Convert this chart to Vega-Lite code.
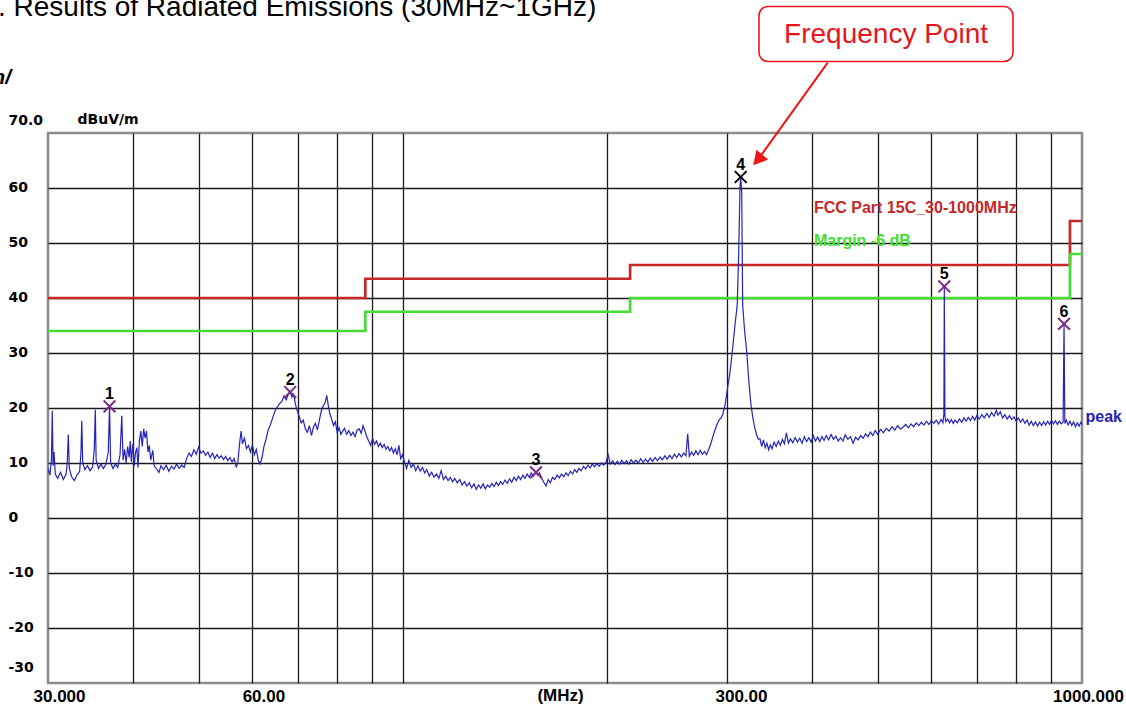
{
"$schema": "https://vega.github.io/schema/vega-lite/v6.json",
"width": 1034,
"height": 550,
"autosize": {"type": "none"},
"padding": {"left": 48, "top": 133, "right": 44, "bottom": 23},
"background": "white",
"config": {"view": {"stroke": "#8c8c8c", "strokeWidth": 2.5}, "font": "DejaVu Sans"},
"title": {"text": ". Results of Radiated Emissions (30MHz~1GHz)", "anchor": "start", "frame": "group", "dx": -50, "offset": -16, "font": "Liberation Sans", "fontSize": 28, "fontWeight": "normal", "color": "#000000"},
"datasets": {
"limits": [
{"s":"fcc","i":0,"f":30,"v":40},{"s":"fcc","i":1,"f":88,"v":40},{"s":"fcc","i":2,"f":88,"v":43.5},{"s":"fcc","i":3,"f":216,"v":43.5},{"s":"fcc","i":4,"f":216,"v":46},{"s":"fcc","i":5,"f":960,"v":46},{"s":"fcc","i":6,"f":960,"v":54},{"s":"fcc","i":7,"f":1000,"v":54},
{"s":"margin","i":0,"f":30,"v":34},{"s":"margin","i":1,"f":88,"v":34},{"s":"margin","i":2,"f":88,"v":37.5},{"s":"margin","i":3,"f":216,"v":37.5},{"s":"margin","i":4,"f":216,"v":40},{"s":"margin","i":5,"f":960,"v":40},{"s":"margin","i":6,"f":960,"v":48},{"s":"margin","i":7,"f":1000,"v":48}
],
"trace": [
{"f":30.0,"v":9.0},{"f":30.2,"v":7.8},{"f":30.35,"v":10.5},{"f":30.44,"v":19.5},{"f":30.52,"v":9.5},{"f":30.62,"v":12.0},{"f":30.75,"v":8.0},{"f":31.0,"v":7.2},{"f":31.3,"v":8.3},{"f":31.6,"v":7.0},{"f":31.9,"v":8.0},{"f":32.02,"v":10.0},{"f":32.14,"v":15.2},{"f":32.25,"v":9.0},{"f":32.5,"v":7.5},{"f":32.8,"v":6.8},{"f":33.1,"v":7.8},{"f":33.4,"v":8.5},{"f":33.55,"v":12.0},{"f":33.64,"v":17.7},{"f":33.75,"v":10.0},{"f":34.0,"v":8.8},{"f":34.3,"v":9.5},{"f":34.6,"v":8.6},{"f":34.9,"v":9.3},{"f":35.1,"v":12.5},{"f":35.22,"v":19.7},{"f":35.32,"v":10.5},{"f":35.6,"v":9.0},{"f":35.9,"v":9.8},{"f":36.2,"v":9.0},{"f":36.5,"v":9.7},{"f":36.8,"v":12.0},{"f":36.96,"v":20.3},{"f":37.1,"v":10.0},{"f":37.4,"v":9.0},{"f":37.7,"v":9.8},{"f":38.0,"v":9.2},{"f":38.3,"v":11.5},{"f":38.53,"v":18.6},{"f":38.7,"v":10.5},{"f":38.9,"v":12.5},{"f":39.1,"v":10.0},{"f":39.3,"v":13.0},{"f":39.5,"v":11.0},{"f":39.65,"v":14.0},{"f":39.8,"v":10.2},{"f":40.0,"v":13.5},{"f":40.2,"v":9.5},{"f":40.35,"v":11.8},{"f":40.55,"v":12.8},{"f":40.7,"v":9.2},{"f":40.9,"v":14.0},{"f":41.1,"v":15.8},{"f":41.3,"v":13.0},{"f":41.5,"v":16.2},{"f":41.7,"v":14.5},{"f":41.9,"v":15.8},{"f":42.1,"v":12.0},{"f":42.3,"v":13.2},{"f":42.5,"v":10.5},{"f":42.8,"v":12.3},{"f":43.0,"v":9.5},
{"f":43.3,"v":9.0},{"f":43.7,"v":8.3},{"f":44.0,"v":9.5},{"f":44.4,"v":8.8},{"f":44.8,"v":9.6},{"f":45.2,"v":8.5},{"f":45.6,"v":9.4},{"f":46.0,"v":8.9},{"f":46.4,"v":9.8},{"f":46.8,"v":9.0},{"f":47.2,"v":9.6},{"f":47.6,"v":9.2},{"f":48.0,"v":10.8},{"f":48.4,"v":11.8},{"f":48.8,"v":11.2},{"f":49.2,"v":12.4},{"f":49.6,"v":11.6},{"f":50.0,"v":12.9},{"f":50.4,"v":11.8},{"f":50.8,"v":12.2},{"f":51.2,"v":11.4},{"f":51.6,"v":12.0},{"f":52.0,"v":11.0},{"f":52.4,"v":11.8},{"f":52.8,"v":10.8},{"f":53.2,"v":11.5},{"f":53.6,"v":10.9},{"f":54.0,"v":11.3},{"f":54.4,"v":10.6},{"f":54.8,"v":11.2},{"f":55.2,"v":10.4},{"f":55.6,"v":11.0},{"f":56.0,"v":10.2},{"f":56.4,"v":10.8},{"f":56.8,"v":9.3},{"f":57.1,"v":10.0},
{"f":57.5,"v":14.0},{"f":57.75,"v":15.8},{"f":58.0,"v":13.5},{"f":58.4,"v":14.5},{"f":58.8,"v":12.6},{"f":59.2,"v":13.2},{"f":59.6,"v":12.0},{"f":60.0,"v":13.3},{"f":60.4,"v":11.5},{"f":60.8,"v":12.5},{"f":61.2,"v":10.5},{"f":61.6,"v":9.8},{"f":62.0,"v":11.0},{"f":62.4,"v":13.0},{"f":62.8,"v":14.2},{"f":63.3,"v":16.0},{"f":63.8,"v":17.0},{"f":64.3,"v":18.3},{"f":64.8,"v":19.5},{"f":65.3,"v":20.2},{"f":65.8,"v":20.8},{"f":66.3,"v":21.2},{"f":66.8,"v":22.2},{"f":67.3,"v":21.5},{"f":67.8,"v":22.6},{"f":68.2,"v":22.9},{"f":68.6,"v":22.0},{"f":69.0,"v":22.5},{"f":69.4,"v":20.8},{"f":69.8,"v":19.6},{"f":70.3,"v":18.5},{"f":70.8,"v":17.3},{"f":71.3,"v":17.8},{"f":71.8,"v":16.2},{"f":72.3,"v":15.6},{"f":72.8,"v":16.8},{"f":73.3,"v":15.0},{"f":73.8,"v":16.5},{"f":74.3,"v":17.2},{"f":74.8,"v":16.0},{"f":75.3,"v":17.8},{"f":75.8,"v":19.5},{"f":76.3,"v":20.4},{"f":76.8,"v":21.0},{"f":77.2,"v":22.3},{"f":77.6,"v":20.5},{"f":78.0,"v":19.0},{"f":78.5,"v":18.0},{"f":79.0,"v":16.8},{"f":79.5,"v":17.5},{"f":80.0,"v":15.5},{"f":80.5,"v":16.4},{"f":81.0,"v":15.2},
{"f":81.5,"v":15.8},{"f":82.0,"v":16.3},{"f":82.6,"v":15.2},{"f":83.2,"v":15.9},{"f":83.8,"v":15.0},{"f":84.4,"v":15.6},{"f":85.0,"v":14.8},{"f":85.6,"v":16.0},{"f":86.2,"v":16.2},{"f":86.8,"v":15.4},{"f":87.3,"v":16.8},{"f":87.8,"v":16.0},{"f":88.4,"v":14.8},{"f":89.0,"v":14.0},{"f":89.6,"v":13.2},{"f":90.2,"v":14.5},{"f":90.8,"v":13.4},{"f":91.4,"v":14.0},{"f":92.0,"v":13.0},{"f":92.6,"v":13.6},{"f":93.2,"v":12.8},{"f":93.8,"v":13.4},{"f":94.4,"v":12.5},{"f":95.0,"v":13.0},{"f":95.6,"v":12.2},{"f":96.2,"v":12.8},{"f":96.8,"v":11.8},{"f":97.4,"v":12.6},{"f":98.0,"v":11.5},{"f":98.6,"v":13.2},{"f":99.2,"v":10.8},{"f":99.8,"v":11.5},
{"f":100.5,"v":10.2},{"f":101.2,"v":9.0},{"f":102.0,"v":10.5},{"f":102.8,"v":9.2},{"f":103.6,"v":9.8},{"f":104.4,"v":8.6},{"f":105.2,"v":9.5},{"f":106.0,"v":8.5},{"f":106.8,"v":9.2},{"f":107.6,"v":8.2},{"f":108.4,"v":8.8},{"f":109.3,"v":7.6},{"f":110.2,"v":8.3},{"f":111.1,"v":7.4},{"f":112.0,"v":8.0},{"f":112.9,"v":7.2},{"f":113.8,"v":8.6},{"f":114.7,"v":7.0},{"f":115.6,"v":7.6},{"f":116.5,"v":6.8},{"f":117.4,"v":7.4},{"f":118.3,"v":6.6},{"f":119.2,"v":7.2},{"f":120.2,"v":6.4},{"f":121.2,"v":7.0},{"f":122.2,"v":6.0},{"f":123.2,"v":6.6},{"f":124.2,"v":5.8},{"f":125.2,"v":6.4},{"f":126.2,"v":5.5},{"f":127.2,"v":6.2},{"f":128.2,"v":5.2},{"f":129.2,"v":6.0},{"f":130.2,"v":5.4},{"f":131.2,"v":6.2},{"f":132.2,"v":5.3},{"f":133.2,"v":6.0},{"f":134.2,"v":5.6},{"f":135.2,"v":6.3},{"f":136.2,"v":5.7},{"f":137.2,"v":6.5},{"f":138.2,"v":5.9},{"f":139.2,"v":6.6},{"f":140.2,"v":6.1},{"f":141.3,"v":6.9},{"f":142.4,"v":6.3},{"f":143.5,"v":7.1},{"f":144.6,"v":6.5},{"f":145.7,"v":7.4},{"f":146.8,"v":6.8},{"f":147.9,"v":7.6},{"f":149.0,"v":7.0},{"f":150.1,"v":7.8},{"f":151.2,"v":7.2},{"f":152.3,"v":8.0},{"f":153.4,"v":7.4},{"f":154.5,"v":8.2},{"f":155.6,"v":7.6},{"f":157.0,"v":8.3},{"f":157.8,"v":7.8},{"f":158.9,"v":8.2},
{"f":160.0,"v":7.2},{"f":161.2,"v":6.5},{"f":162.4,"v":5.8},{"f":163.6,"v":7.0},{"f":164.8,"v":6.4},{"f":166.0,"v":7.4},{"f":167.3,"v":7.0},{"f":168.6,"v":7.8},{"f":169.9,"v":7.3},{"f":171.2,"v":8.0},{"f":172.5,"v":7.5},{"f":173.8,"v":8.2},{"f":175.1,"v":7.7},{"f":176.4,"v":8.5},{"f":177.7,"v":8.0},{"f":179.0,"v":8.8},{"f":180.3,"v":8.3},{"f":181.6,"v":9.0},{"f":183.0,"v":8.6},{"f":184.4,"v":9.4},{"f":185.8,"v":8.9},{"f":187.2,"v":9.6},{"f":188.6,"v":9.1},{"f":190.0,"v":9.8},{"f":191.5,"v":9.3},{"f":193.0,"v":9.9},{"f":194.5,"v":9.4},{"f":196.0,"v":10.0},{"f":197.5,"v":9.6},{"f":199.0,"v":10.1},{"f":200.5,"v":11.5},{"f":202.0,"v":9.8},{"f":203.6,"v":10.4},{"f":205.2,"v":9.7},{"f":206.8,"v":10.3},{"f":208.4,"v":9.8},{"f":210.0,"v":10.5},{"f":211.7,"v":9.9},{"f":213.4,"v":10.4},{"f":215.1,"v":9.8},{"f":216.8,"v":10.6},{"f":218.5,"v":10.0},{"f":220.3,"v":10.5},{"f":222.1,"v":10.0},{"f":223.9,"v":10.8},{"f":225.7,"v":10.1},{"f":227.5,"v":10.7},{"f":229.4,"v":10.2},{"f":231.3,"v":10.9},{"f":233.2,"v":10.3},{"f":235.1,"v":11.0},{"f":237.0,"v":10.4},{"f":239.0,"v":11.1},
{"f":241.0,"v":10.6},{"f":243.0,"v":11.3},{"f":245.0,"v":10.7},{"f":247.0,"v":11.4},{"f":249.0,"v":10.8},{"f":251.0,"v":11.6},{"f":253.0,"v":11.0},{"f":255.0,"v":11.7},{"f":257.0,"v":11.1},{"f":259.0,"v":11.8},{"f":261.0,"v":11.3},{"f":262.6,"v":15.3},{"f":264.0,"v":11.2},{"f":266.0,"v":12.0},{"f":268.0,"v":11.4},{"f":270.0,"v":12.2},{"f":272.0,"v":11.5},{"f":274.0,"v":12.3},{"f":276.0,"v":11.6},{"f":278.0,"v":12.1},{"f":280.0,"v":11.5},{"f":282.0,"v":12.5},{"f":284.0,"v":13.5},{"f":286.0,"v":14.8},{"f":288.0,"v":16.0},{"f":290.0,"v":17.0},{"f":292.0,"v":17.8},{"f":294.0,"v":18.2},{"f":296.0,"v":19.0},{"f":298.0,"v":20.5},{"f":300.5,"v":23.5},{"f":303.1,"v":26.5},{"f":305.6,"v":30.5},{"f":308.2,"v":35.0},{"f":310.6,"v":38.7},{"f":312.1,"v":47.8},{"f":313.6,"v":60.5},{"f":314.3,"v":62.0},{"f":315.4,"v":59.0},{"f":316.4,"v":38.7},{"f":318.5,"v":34.0},{"f":320.8,"v":30.2},{"f":323.0,"v":25.0},{"f":325.5,"v":20.5},{"f":327.7,"v":18.0},{"f":329.9,"v":16.2},{"f":332.0,"v":15.0},{"f":333.7,"v":14.3},
{"f":335.5,"v":14.4},{"f":337.5,"v":13.0},{"f":339.5,"v":14.2},{"f":341.5,"v":12.8},{"f":343.5,"v":13.6},{"f":345.5,"v":12.4},{"f":347.5,"v":13.3},{"f":349.5,"v":12.6},{"f":352.0,"v":13.8},{"f":354.5,"v":13.0},{"f":357.0,"v":14.0},{"f":359.5,"v":13.2},{"f":362.0,"v":14.3},{"f":364.5,"v":13.5},{"f":367.0,"v":15.5},{"f":369.5,"v":13.6},{"f":372.0,"v":14.4},{"f":375.0,"v":13.7},{"f":378.0,"v":14.6},{"f":381.0,"v":13.8},{"f":384.0,"v":14.5},{"f":387.0,"v":13.6},{"f":390.0,"v":14.8},{"f":393.0,"v":13.9},{"f":396.0,"v":14.6},{"f":399.0,"v":13.8},{"f":402.0,"v":15.0},{"f":405.0,"v":14.0},{"f":408.0,"v":14.7},{"f":411.0,"v":13.9},{"f":414.0,"v":14.8},{"f":417.0,"v":14.1},{"f":420.0,"v":15.0},{"f":423.5,"v":14.2},{"f":427.0,"v":15.2},{"f":430.5,"v":14.3},{"f":434.0,"v":14.9},{"f":437.5,"v":14.0},{"f":441.0,"v":14.6},{"f":444.5,"v":14.0},{"f":448.0,"v":15.1},{"f":452.0,"v":14.3},{"f":456.0,"v":14.8},{"f":460.0,"v":13.6},{"f":464.0,"v":14.7},{"f":468.0,"v":14.2},{"f":472.0,"v":15.0},{"f":476.0,"v":14.5},{"f":480.0,"v":15.3},{"f":484.0,"v":14.8},{"f":488.0,"v":15.6},{"f":492.0,"v":15.0},{"f":496.0,"v":15.9},{"f":500.0,"v":15.2},{"f":505.0,"v":16.1},{"f":510.0,"v":15.5},{"f":515.0,"v":16.3},{"f":520.0,"v":15.8},{"f":525.0,"v":16.6},{"f":530.0,"v":16.0},{"f":535.0,"v":16.8},{"f":540.0,"v":16.2},
{"f":545.0,"v":16.5},{"f":550.0,"v":17.0},{"f":555.0,"v":16.4},{"f":560.0,"v":17.1},{"f":565.0,"v":16.6},{"f":570.0,"v":17.3},{"f":575.0,"v":16.8},{"f":580.0,"v":17.4},{"f":585.0,"v":16.9},{"f":590.0,"v":17.6},{"f":595.0,"v":17.0},{"f":600.0,"v":17.7},{"f":605.0,"v":17.2},{"f":610.0,"v":17.8},{"f":615.0,"v":17.1},{"f":620.0,"v":17.9},{"f":624.0,"v":17.3},{"f":626.0,"v":19.0},{"f":626.9,"v":42.1},{"f":628.2,"v":18.5},{"f":630.0,"v":17.5},{"f":634.0,"v":18.0},{"f":638.0,"v":17.3},{"f":642.0,"v":17.9},{"f":646.0,"v":17.2},{"f":650.0,"v":17.8},{"f":655.0,"v":17.3},{"f":660.0,"v":18.0},{"f":665.0,"v":17.4},{"f":670.0,"v":18.2},{"f":675.0,"v":17.6},{"f":680.0,"v":18.3},{"f":685.0,"v":17.7},{"f":690.0,"v":18.5},{"f":695.0,"v":17.8},{"f":700.0,"v":18.6},{"f":706.0,"v":18.0},{"f":712.0,"v":18.8},{"f":718.0,"v":18.2},{"f":724.0,"v":19.0},{"f":730.0,"v":18.3},{"f":736.0,"v":19.2},{"f":742.0,"v":18.5},{"f":748.0,"v":19.6},{"f":752.0,"v":18.7},{"f":758.0,"v":19.3},{"f":764.0,"v":18.2},{"f":770.0,"v":18.8},{"f":776.0,"v":18.0},{"f":782.0,"v":18.6},{"f":788.0,"v":17.9},{"f":794.0,"v":18.4},{"f":800.0,"v":17.6},{"f":806.0,"v":18.2},{"f":812.0,"v":17.4},{"f":818.0,"v":18.0},{"f":824.0,"v":17.2},{"f":830.0,"v":17.8},{"f":836.0,"v":16.9},{"f":842.0,"v":17.6},{"f":848.0,"v":16.8},{"f":854.0,"v":17.5},{"f":860.0,"v":16.7},{"f":866.0,"v":17.4},{"f":872.0,"v":16.8},{"f":878.0,"v":17.5},{"f":884.0,"v":16.9},{"f":890.0,"v":17.6},{"f":896.0,"v":17.0},{"f":902.0,"v":17.8},{"f":908.0,"v":17.1},{"f":914.0,"v":17.7},{"f":920.0,"v":17.0},{"f":926.0,"v":17.6},{"f":932.0,"v":17.1},{"f":938.0,"v":17.4},{"f":940.9,"v":35.3},{"f":943.5,"v":17.2},{"f":948.0,"v":17.8},{"f":954.0,"v":16.9},{"f":960.0,"v":17.6},{"f":966.0,"v":16.8},{"f":972.0,"v":17.5},{"f":978.0,"v":16.6},{"f":984.0,"v":17.3},{"f":990.0,"v":16.7},{"f":996.0,"v":17.4},{"f":1000.0,"v":17.0}
],
"markers": [
{"n":"1","f":36.96,"v":20.3},{"n":"2","f":68.2,"v":22.9},{"n":"3","f":157.0,"v":8.3},{"n":"4","f":314.3,"v":62.0},{"n":"5","f":626.9,"v":42.1},{"n":"6","f":940.9,"v":35.3}
],
"notes": [
{"k":"fcc","t":"FCC Part 15C_30-1000MHz","f":402.9,"v":55.5},
{"k":"margin","t":"Margin -6 dB","f":402.9,"v":49.5},
{"k":"peak","t":"peak","f":1012,"v":17.4}
],
"fragment": [{"t":"m/","f":26.47,"v":79.0}],
"callout": [{"f":334.4,"v":93.0,"f2":791.4,"v2":83.0}],
"calloutText": [{"t":"Frequency Point","f":514.5,"v":86.45}],
"arrow": [{"f":422.2,"v":82.8,"f2":333.0,"v2":65.1}],
"arrowhead": [{"f":333.0,"v":65.1}]
},
"encoding": {
"x": {"field": "f", "type": "quantitative",
 "scale": {"type": "log", "domain": [30, 1000], "nice": false},
 "axis": {"values": [30,40,50,60,70,80,90,100,200,300,400,500,600,700,800,900,1000],
  "labelExpr": "datum.value == 30 ? '30.000' : datum.value == 60 ? '60.00' : datum.value == 300 ? '300.00' : datum.value == 1000 ? '1000.000' : ''",
  "title": "(MHz)", "titleX": 512, "titleY": 12, "titleBaseline": "middle", "titleFont": "Liberation Sans", "titleFontSize": 17, "titleFontWeight": "bold", "titleColor": "#000000",
  "labelFont": "Liberation Sans", "labelFontSize": 17, "labelFontWeight": "bold", "labelColor": "#000000", "labelPadding": 5, "labelAlign": "center", "labelBaseline": "top",
  "labelOffset": {"expr": "datum.value == 30 ? 11 : datum.value == 60 ? 11 : datum.value == 300 ? 14 : datum.value == 1000 ? 6 : 0"},
  "ticks": false, "tickSize": 0, "domain": false, "grid": true,
  "gridColor": {"condition": {"test": "datum.value == 30 || datum.value == 1000", "value": "transparent"}, "value": "#1a1a1a"},
  "gridWidth": 1.3, "labelOverlap": false, "labelFlush": false, "labelBound": false}},
"y": {"field": "v", "type": "quantitative",
 "scale": {"domain": [-30, 70], "nice": false, "zero": false},
 "axis": {"values": [-30,-20,-10,0,10,20,30,40,50,60,70],
  "labelExpr": "datum.value == 70 ? '70.0' : '' + datum.value",
  "title": "dBuV/m", "titleAngle": 0, "titleX": 29, "titleY": -10, "titleAlign": "left", "titleBaseline": "alphabetic", "titleFont": "DejaVu Sans", "titleFontSize": 14, "titleFontWeight": "bold", "titleColor": "#000000",
  "labelFont": "DejaVu Sans", "labelFontSize": 14, "labelFontWeight": "bold", "labelColor": "#000000", "labelAlign": "left", "labelPadding": 40,
  "labelOffset": {"expr": "datum.value == 70 ? -13 : datum.value == -30 ? -16 : -1"},
  "ticks": false, "tickSize": 0, "domain": false, "grid": true,
  "gridColor": {"condition": {"test": "datum.value == 70 || datum.value == -30", "value": "transparent"}, "value": "#1a1a1a"},
  "gridWidth": 1.3, "labelOverlap": false, "labelFlush": false, "labelBound": false}}
},
"layer": [
{"data": {"name": "limits"}, "transform": [{"filter": "datum.s == 'fcc'"}], "mark": {"type": "line", "color": "#c62828", "strokeWidth": 2.7}, "encoding": {"order": {"field": "i", "type": "quantitative"}}},
{"data": {"name": "limits"}, "transform": [{"filter": "datum.s == 'margin'"}], "mark": {"type": "line", "color": "#44dd33", "strokeWidth": 2.7}, "encoding": {"order": {"field": "i", "type": "quantitative"}}},
{"data": {"name": "trace"}, "mark": {"type": "line", "color": "#2424b8", "strokeWidth": 1.2}, "encoding": {}},
{"data": {"name": "markers"}, "mark": {"type": "point", "shape": "M-1,-1L1,1M-1,1L1,-1", "filled": false, "strokeWidth": 2, "size": 140, "opacity": 1},
 "encoding": {"color": {"condition": {"test": "datum.n == '4'", "value": "#000000"}, "value": "#7a2f86"}}},
{"data": {"name": "markers"}, "mark": {"type": "text", "font": "Liberation Sans", "fontSize": 16, "fontWeight": "bold", "color": "#000000", "baseline": "alphabetic", "align": "center", "dy": -7},
 "encoding": {"text": {"field": "n", "type": "nominal"}}},
{"data": {"name": "notes"}, "mark": {"type": "text", "font": "Liberation Sans", "fontSize": 16, "fontWeight": "bold", "baseline": "alphabetic", "align": "left"},
 "encoding": {"text": {"field": "t", "type": "nominal"},
  "color": {"condition": [{"test": "datum.k == 'fcc'", "value": "#c62828"}, {"test": "datum.k == 'margin'", "value": "#44dd33"}], "value": "#2424b8"}}},
{"data": {"name": "fragment"}, "mark": {"type": "text", "font": "Liberation Sans", "fontSize": 21, "fontWeight": "bold", "fontStyle": "italic", "color": "#000000", "baseline": "alphabetic", "align": "right"},
 "encoding": {"text": {"field": "t", "type": "nominal"}}},
{"data": {"name": "callout"}, "mark": {"type": "rect", "fill": "white", "stroke": "#e8161c", "strokeWidth": 1.6, "cornerRadius": 9},
 "encoding": {"x2": {"field": "f2"}, "y2": {"field": "v2"}}},
{"data": {"name": "calloutText"}, "mark": {"type": "text", "font": "Liberation Sans", "fontSize": 28, "color": "#e8161c", "align": "center", "baseline": "alphabetic"},
 "encoding": {"text": {"field": "t", "type": "nominal"}}},
{"data": {"name": "arrow"}, "mark": {"type": "rule", "color": "#f01515", "strokeWidth": 2},
 "encoding": {"x2": {"field": "f2"}, "y2": {"field": "v2"}}},
{"data": {"name": "arrowhead"}, "mark": {"type": "point", "shape": "M0,-1L1.1,1L-1.1,1Z", "filled": true, "color": "#f01515", "size": 196, "angle": 220, "opacity": 1, "strokeWidth": 0},
 "encoding": {}}
]
}
